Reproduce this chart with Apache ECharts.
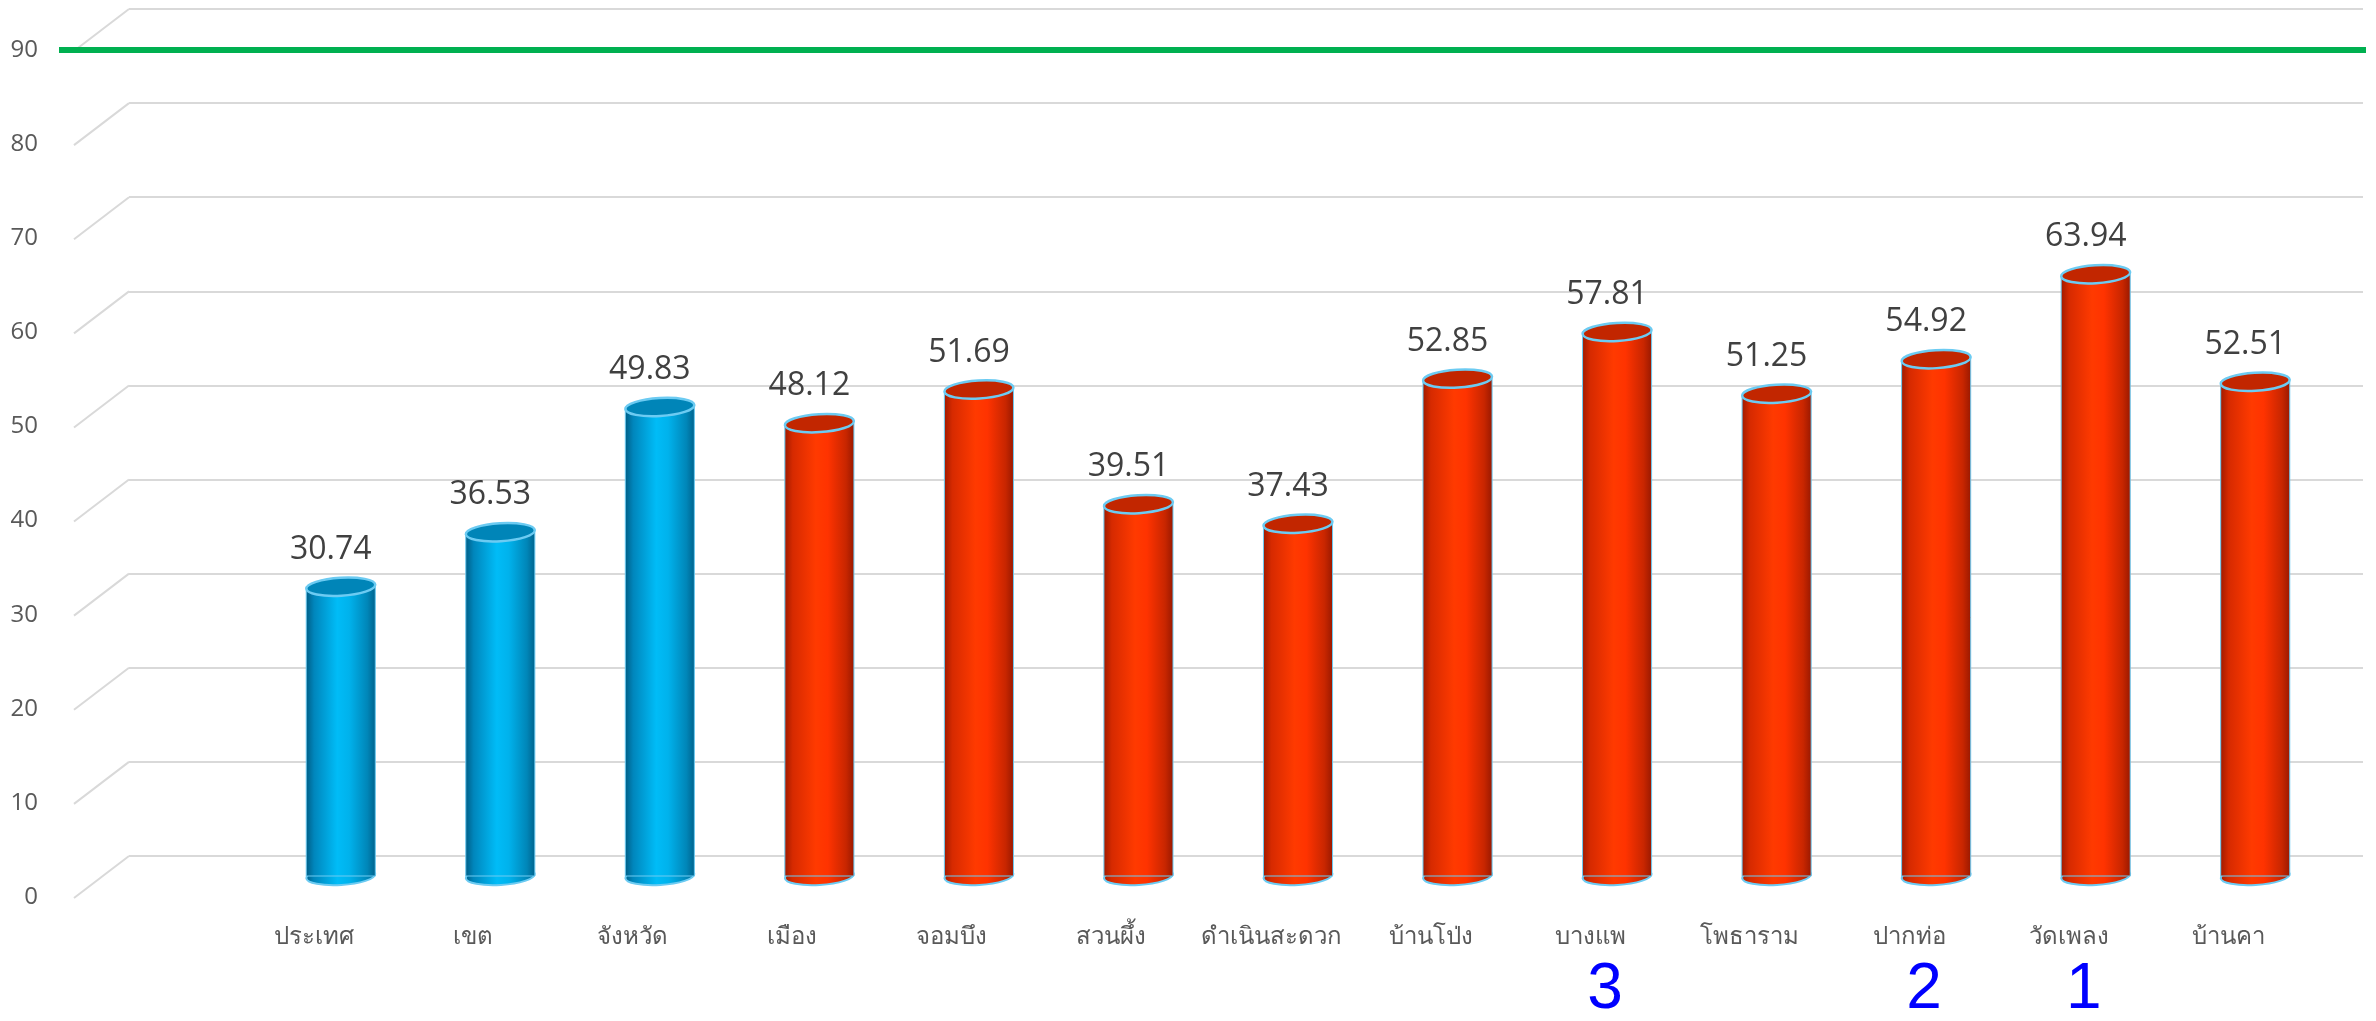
<!DOCTYPE html>
<html>
<head>
<meta charset="utf-8">
<script src="https://cdn.jsdelivr.net/npm/echarts@6/dist/echarts.min.js"></script>
<style>
html,body{margin:0;padding:0;background:#fff;}
#chart{width:2376px;height:1021px;}
</style>
</head>
<body>
<div id="chart"></div>
<script>
const categories = ['ประเทศ','เขต','จังหวัด','เมือง','จอมบึง','สวนผึ้ง','ดำเนินสะดวก','บ้านโป่ง','บางแพ','โพธาราม','ปากท่อ','วัดเพลง','บ้านคา'];
const values = [30.74, 36.53, 49.83, 48.12, 51.69, 39.51, 37.43, 52.85, 57.81, 51.25, 54.92, 63.94, 52.51];
const ranks = ['', '', '', '', '', '', '', '', '3', '', '2', '1', ''];
const aggregateCount = 3; // ประเทศ, เขต, จังหวัด shown in blue
const targetValue = 90;
const yTicks = [0, 10, 20, 30, 40, 50, 60, 70, 80, 90];

const blueStyle = {
  body: [[0,'#005C84'],[0.12,'#0086BC'],[0.45,'#00BCF7'],[0.62,'#00B2EC'],[0.88,'#0086B8'],[1,'#00628C']],
  top: '#0085B8'
};
const redStyle = {
  body: [[0,'#9E1A00'],[0.12,'#D62A00'],[0.45,'#FF3A00'],[0.62,'#FF3300'],[0.88,'#C82600'],[1,'#981800']],
  top: '#C22600'
};
const edgeColor = '#6CCBF2';

const chart = echarts.init(document.getElementById('chart'));

function renderCylinder(params, api) {
  const idx = api.value(0);
  const val = api.value(1);
  const top = api.coord([idx, val]);
  const bot = api.coord([idx, 0]);
  const w = api.size([1, 0])[0] * 0.433;
  const rx = w / 2, ry = 9;
  const st = idx < aggregateCount ? blueStyle : redStyle;
  const grad = new echarts.graphic.LinearGradient(0, 0, 1, 0,
    st.body.map(s => ({offset: s[0], color: s[1]})));
  const children = [
    {type: 'ellipse', x: bot[0], y: bot[1], rotation: 0.06,
      shape: {cx: 0, cy: 0, rx: rx, ry: ry},
      style: {fill: grad, stroke: edgeColor, lineWidth: 2}},
    {type: 'rect', shape: {x: top[0] - rx, y: top[1], width: w, height: bot[1] - top[1]},
      style: {fill: grad, stroke: edgeColor, lineWidth: 1}},
    {type: 'ellipse', x: top[0], y: top[1], rotation: 0.06,
      shape: {cx: 0, cy: 0, rx: rx, ry: ry},
      style: {fill: st.top, stroke: edgeColor, lineWidth: 2.5}},
    {type: 'text', x: top[0] - 10, y: top[1] - 37,
      style: {text: val.toFixed(2), align: 'center', verticalAlign: 'middle',
        fill: '#404040', font: '32px "Open Sans", "Noto Sans", sans-serif'}}
  ];
  const r = ranks[idx];
  if (r) {
    children.push({type: 'text', x: bot[0] - 12, y: bot[1] + 114,
      style: {text: r, align: 'center', verticalAlign: 'middle',
        fill: '#0000FF', font: '64px "Liberation Sans Narrow", "Liberation Sans", sans-serif'}});
  }
  return {type: 'group', children: children};
}

function renderDiagonal(params, api) {
  const y = api.coord([0, api.value(1)])[1];
  const x = params.coordSys.x;
  return {type: 'line', shape: {x1: x, y1: y, x2: x - 55, y2: y + 42},
    style: {stroke: '#D9D9D9', lineWidth: 2}};
}

const hiddenCat = (gi) => ({type: 'category', gridIndex: gi, data: categories, show: false});
const hiddenVal = (gi) => ({type: 'value', gridIndex: gi, min: 0, max: 90, interval: 10, show: false});

chart.setOption({
  animation: false,
  grid: [
    {left: 129, right: 13, top: 9, bottom: 165},   // back plane
    {left: 59, right: 10, top: 50, bottom: 124},    // front plane: y labels + target line
    {left: 261, right: 41, top: 29, bottom: 145},   // bars (mid depth)
    {left: 234, right: 68, top: 50, bottom: 124}    // front plane: category labels
  ],
  xAxis: [
    hiddenCat(0), hiddenCat(1), hiddenCat(2),
    {type: 'category', gridIndex: 3, data: categories,
      axisLine: {show: false}, axisTick: {show: false},
      axisLabel: {margin: 28, fontSize: 24, color: '#595959', interval: 0,
        fontFamily: '"Noto Sans", sans-serif'}}
  ],
  yAxis: [
    {type: 'value', gridIndex: 0, min: 0, max: 90, interval: 10,
      axisLine: {show: false}, axisTick: {show: false}, axisLabel: {show: false},
      splitLine: {lineStyle: {color: '#D9D9D9', width: 2}}},
    {type: 'value', gridIndex: 1, min: 0, max: 90, interval: 10,
      axisLine: {show: false}, axisTick: {show: false}, splitLine: {show: false},
      axisLabel: {margin: 21, fontSize: 24, color: '#595959',
        fontFamily: '"Open Sans", "Noto Sans", sans-serif'}},
    hiddenVal(2), hiddenVal(3)
  ],
  series: [
    {type: 'custom', xAxisIndex: 0, yAxisIndex: 0, silent: true,
      data: yTicks.map(t => [0, t]), renderItem: renderDiagonal, z: 1},
    {type: 'line', xAxisIndex: 1, yAxisIndex: 1, data: [], silent: true,
      markLine: {symbol: 'none', silent: true, label: {show: false},
        lineStyle: {color: '#00B050', width: 6, type: 'solid'},
        data: [{yAxis: targetValue}]}, z: 3},
    {type: 'custom', xAxisIndex: 2, yAxisIndex: 2, silent: true,
      data: values.map((v, i) => [i, v]), renderItem: renderCylinder, z: 4},
    {type: 'line', xAxisIndex: 3, yAxisIndex: 3, data: [], silent: true}
  ]
});
</script>
</body>
</html>
